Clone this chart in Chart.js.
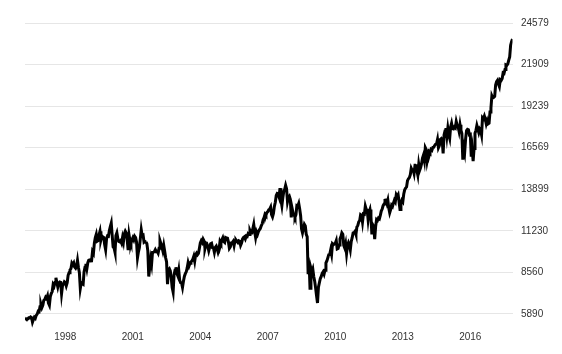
<!DOCTYPE html>
<html>
<head>
<meta charset="utf-8">
<script src="https://cdn.jsdelivr.net/npm/chart.js@4"></script>
<style>
  html, body { margin: 0; padding: 0; background: #ffffff; }
  #wrap { width: 562px; height: 354px; position: relative; }
</style>
</head>
<body>
<div id="wrap"><canvas id="c"></canvas></div>
<script>
// Semi-monthly readings (mid-month, month-end) of the index, per year
const y1996 = [null,null,null,null, 5630,5587, 5530,5569, 5650,5643, 5700,5655, 5360,5529, 5680,5616, 5800,5882, 6060,6029, 6350,6522, 6300,6448];
const y1997 = [6760,6813, 6960,6878, 7050,6584, 6450,7009, 7200,7331, 7780,7673, 7920,8223, 7900,7622, 7880,7945, 7920,7200, 7700,7823, 7960,7908];
const y1998 = [7700,7907, 8370,8546, 8720,8800, 9160,9063, 9170,8900, 8830,8952, 9330,8883, 8550,7539, 7900,7843, 7800,8592, 8900,9117, 8800,9181];
const y1999 = [9340,9359, 9300,9307, 9900,9786, 10460,10789, 11000,10560, 10600,10971, 11200,10655, 10900,10829, 10800,10337, 10020,10730, 10900,10878, 11250,11497];
const y2000 = [11723,10941, 10200,10128, 9850,10922, 11100,10734, 10550,10522, 10600,10448, 10800,10522, 11050,11215, 11100,10651, 10000,10971, 10600,10415, 10650,10787];
const y2001 = [10650,10887, 10800,10495, 9500,9879, 10150,10735, 11300,10912, 10950,10502, 10550,10523, 10400,9950, 8300,8848, 9400,9075, 9850,9852, 9900,10022];
const y2002 = [9900,9920, 9800,10106, 10600,10404, 10200,9946, 10300,9925, 9500,9243, 7800,8737, 8800,8664, 8200,7592, 7300,8397, 8700,8896, 8500,8342];
const y2003 = [8700,8054, 7900,7891, 7600,7992, 8300,8480, 8600,8850, 9200,8985, 9150,9234, 9300,9416, 9600,9275, 9700,9801, 9700,9782, 10100,10454];
const y2004 = [10600,10488, 10700,10584, 10100,10358, 10400,10226, 9950,10188, 10400,10435, 10150,10140, 9850,10174, 10250,10080, 9850,10027, 10550,10428, 10650,10783];
const y2005 = [10550,10490, 10800,10766, 10750,10504, 10100,10193, 10450,10467, 10550,10275, 10600,10641, 10550,10482, 10600,10569, 10300,10440, 10700,10806, 10850,10718];
const y2006 = [10900,10865, 11050,10993, 11250,11109, 11100,11367, 11650,11168, 10800,11150, 11000,11186, 11300,11381, 11560,11679, 11950,12081, 12300,12222, 12400,12463];
const y2007 = [12580,12622, 12750,12269, 12130,12354, 12800,13063, 13500,13628, 13600,13409, 13970,13212, 12850,13358, 13750,13896, 14150,13930, 13100,13372, 13450,13265];
const y2008 = [12100,12650, 12350,12266, 12100,12263, 12850,12820, 12990,12638, 12200,11350, 11100,11378, 11650,11544, 11000,10851, 8450,9325, 7550,8829, 8600,8776];
const y2009 = [8300,8001, 7550,7063, 6600,7609, 7900,8168, 8300,8500, 8600,8447, 8700,9172, 9300,9496, 9700,9712, 10000,9713, 10400,10345, 10400,10428];
const y2010 = [10600,10067, 10100,10325, 10700,10857, 11100,11009, 10300,10137, 10400,9774, 10300,10466, 10300,10015, 10550,10788, 11100,11118, 11200,11006, 11480,11578];
const y2011 = [11800,11892, 12270,12226, 11800,12320, 12300,12811, 12600,12570, 11950,12414, 12600,12143, 11000,11614, 11500,10700, 11500,11955, 11900,12046, 12000,12218];
const y2012 = [12500,12633, 12850,12952, 13200,13212, 13000,13214, 12700,12393, 12600,12880, 12800,13009, 13200,13091, 13550,13437, 13550,13096, 12600,13026, 13200,13104];
const y2013 = [13600,13861, 13980,14054, 14450,14579, 14650,14840, 15250,15116, 15150,14910, 15450,15500, 15100,14810, 15500,15130, 15300,15546, 15900,16086, 15750,16577];
const y2014 = [16450,15699, 16000,16322, 16250,16458, 16400,16581, 16600,16717, 16800,16827, 17100,16563, 16700,17098, 17150,17043, 16200,17391, 17650,17828, 17300,17823];
const y2015 = [17400,17165, 17900,18133, 17800,17776, 17900,17841, 18250,18011, 17900,17620, 18050,17690, 17480,15800, 16600,16285, 17150,17664, 17750,17720, 17400,17425];
const y2016 = [16000,16466, 15700,16517, 17500,17685, 18000,17774, 17550,17787, 17700,17400, 18500,18432, 18600,18401, 18100,18308, 18100,18142, 18870,19124, 19900,19763];
const y2017 = [19800,19864, 20600,20812, 20900,20663, 20500,20941, 20900,21009, 21380,21350, 21600,21891, 21860,21948, 22200,22405, 23150,23377, 23550];

const years = [1996,1997,1998,1999,2000,2001,2002,2003,2004,2005,2006,2007,2008,2009,2010,2011,2012,2013,2014,2015,2016,2017];
const yearValues = [y1996,y1997,y1998,y1999,y2000,y2001,y2002,y2003,y2004,y2005,y2006,y2007,y2008,y2009,y2010,y2011,y2012,y2013,y2014,y2015,y2016,y2017];

const xTickYears = [1998, 2001, 2004, 2007, 2010, 2013, 2016];
const yTickValues = [5890, 8560, 11230, 13899, 16569, 19239, 21909, 24579];

const points = [];
years.forEach((yr, i) => {
  yearValues[i].forEach((v, k) => {
    if (v !== null) points.push({ x: yr + (k + 1) / 24, y: v });
  });
});

const tickFont = { family: "'Liberation Sans', Arial, Helvetica, sans-serif", size: 10 };

new Chart(document.getElementById('c'), {
  type: 'line',
  data: {
    datasets: [{
      data: points,
      borderColor: '#000000',
      borderWidth: 3,
      pointRadius: 0,
      pointHoverRadius: 0,
      tension: 0,
      fill: false
    }]
  },
  options: {
    responsive: true,
    maintainAspectRatio: false,
    animation: false,
    events: [],
    layout: { padding: { left: 25, right: 0, top: 10, bottom: 0 } },
    plugins: { legend: { display: false }, tooltip: { enabled: false } },
    scales: {
      x: {
        type: 'linear',
        min: 1996 + 5 / 24,
        max: 2017 + 21 / 24,
        afterBuildTicks: (axis) => { axis.ticks = xTickYears.map(v => ({ value: v })); },
        afterFit: (axis) => { axis.height = 24; axis.paddingLeft = 0; axis.paddingRight = 0; },
        grid: { display: false, drawTicks: false },
        border: { display: false },
        ticks: {
          autoSkip: false,
          maxRotation: 0,
          padding: 1,
          color: '#333333',
          font: tickFont,
          callback: (v) => String(v)
        }
      },
      y: {
        position: 'right',
        min: 4862,
        max: 25414,
        afterBuildTicks: (axis) => { axis.ticks = yTickValues.map(v => ({ value: v })); },
        afterFit: (axis) => { axis.width = 49.5; axis.paddingTop = 0; axis.paddingBottom = 0; },
        grid: { color: '#e6e6e6', lineWidth: 1, drawTicks: false },
        border: { display: false },
        ticks: {
          padding: 8.5,
          color: '#333333',
          font: tickFont,
          callback: (v) => String(v)
        }
      }
    }
  }
});
</script>
</body>
</html>
